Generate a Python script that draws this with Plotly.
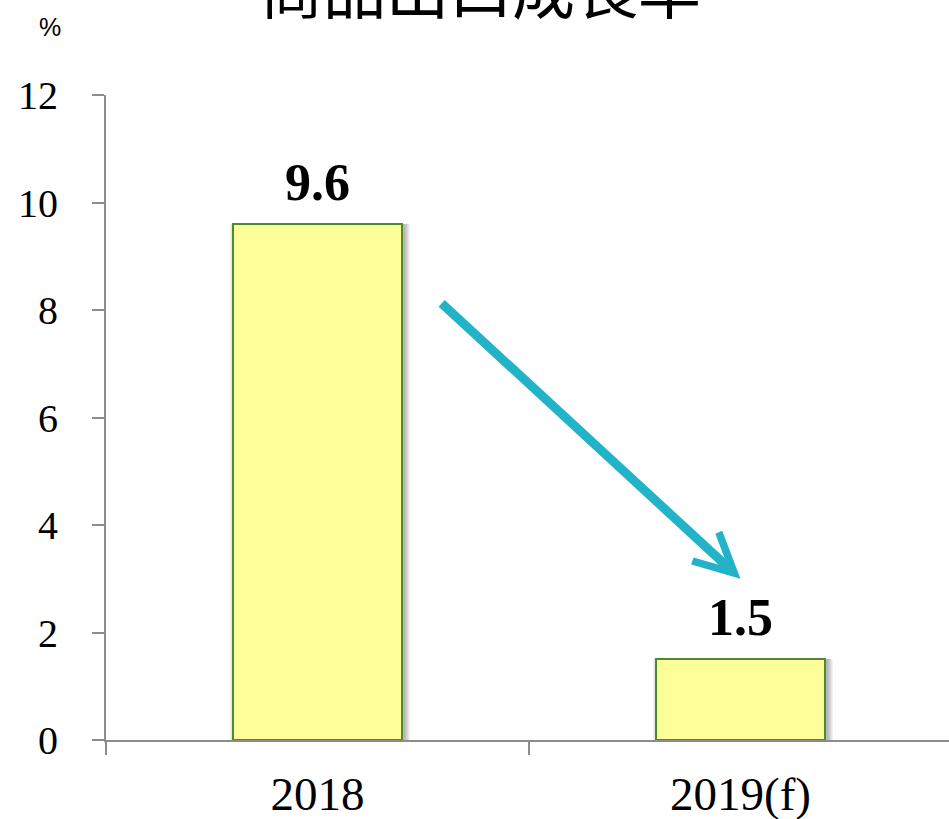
import plotly.graph_objects as go

categories = ["2018", "2019(f)"]
values = [9.6, 1.5]
y_ticks = [0, 2, 4, 6, 8, 10, 12]
title_text = "商品出口成長率"
unit_text = "%"

BAR_W = 0.4
fig = go.Figure()

# soft shadow layers
for k in range(6):
    fig.add_trace(go.Bar(
        x=categories, y=values,
        width=BAR_W + 0.004 * (k + 1),
        offset=-BAR_W / 2 + 0.004 - 0.002 * k,
        marker=dict(color="rgba(0,0,0,0.05)", line=dict(width=0)),
        hoverinfo="skip", showlegend=False,
    ))

fig.add_trace(go.Bar(
    x=categories, y=values, width=BAR_W,
    marker=dict(color="#FFFF99", line=dict(color="#4E8B2C", width=2)),
    showlegend=False,
))

for i, v in enumerate(values):
    fig.add_annotation(
        x=i, y=v, xref="x", yref="y", text=f"<b>{v:.1f}</b>",
        showarrow=False, yanchor="bottom", yshift=11,
        font=dict(family="Liberation Serif", size=52, color="#000000"),
    )

# trend arrow
fig.add_annotation(
    x=1.0, y=3.0, ax=0.29, ay=8.15, xref="x", yref="y", axref="x", ayref="y",
    text="", showarrow=True, arrowhead=5, arrowsize=0.85, arrowwidth=9,
    arrowcolor="#22B3C9", standoff=0, startstandoff=0,
)

fig.add_annotation(
    x=0.4437, y=1.169, xref="paper", yref="paper", text=title_text,
    showarrow=False, yanchor="middle", xanchor="center",
    font=dict(family="Noto Sans CJK TC", size=63, color="#000000"),
)
fig.add_annotation(
    x=-0.0664, y=1.1054, xref="paper", yref="paper", text=unit_text,
    showarrow=False, yanchor="middle", xanchor="center",
    font=dict(family="Liberation Sans", size=25, color="#000000"),
)

fig.update_layout(
    width=949, height=819,
    margin=dict(l=106, r=0, t=95, b=79),
    paper_bgcolor="white", plot_bgcolor="white",
    barmode="overlay", bargap=0,
    xaxis=dict(
        type="category", range=[-0.5, 1.493],
        showline=True, linecolor="#8C8C8C", linewidth=2,
        ticks="outside", tickson="boundaries", ticklen=13, tickcolor="#8C8C8C", tickwidth=2,
        tickfont=dict(family="Liberation Serif", size=47, color="#000000"),
        ticklabelstandoff=12,
        showgrid=False, zeroline=False,
    ),
    yaxis=dict(
        range=[0, 12], tickvals=y_ticks,
        showline=True, linecolor="#8C8C8C", linewidth=2,
        ticks="outside", ticklen=12, tickcolor="#8C8C8C", tickwidth=2,
        tickfont=dict(family="Liberation Serif", size=40, color="#000000"),
        ticklabelstandoff=26,
        showgrid=False, zeroline=False,
    ),
)

fig.write_html(
    "out.html",
    config={"displayModeBar": False},
    post_script="document.body.style.margin='0px';document.body.style.overflow='hidden';",
)
